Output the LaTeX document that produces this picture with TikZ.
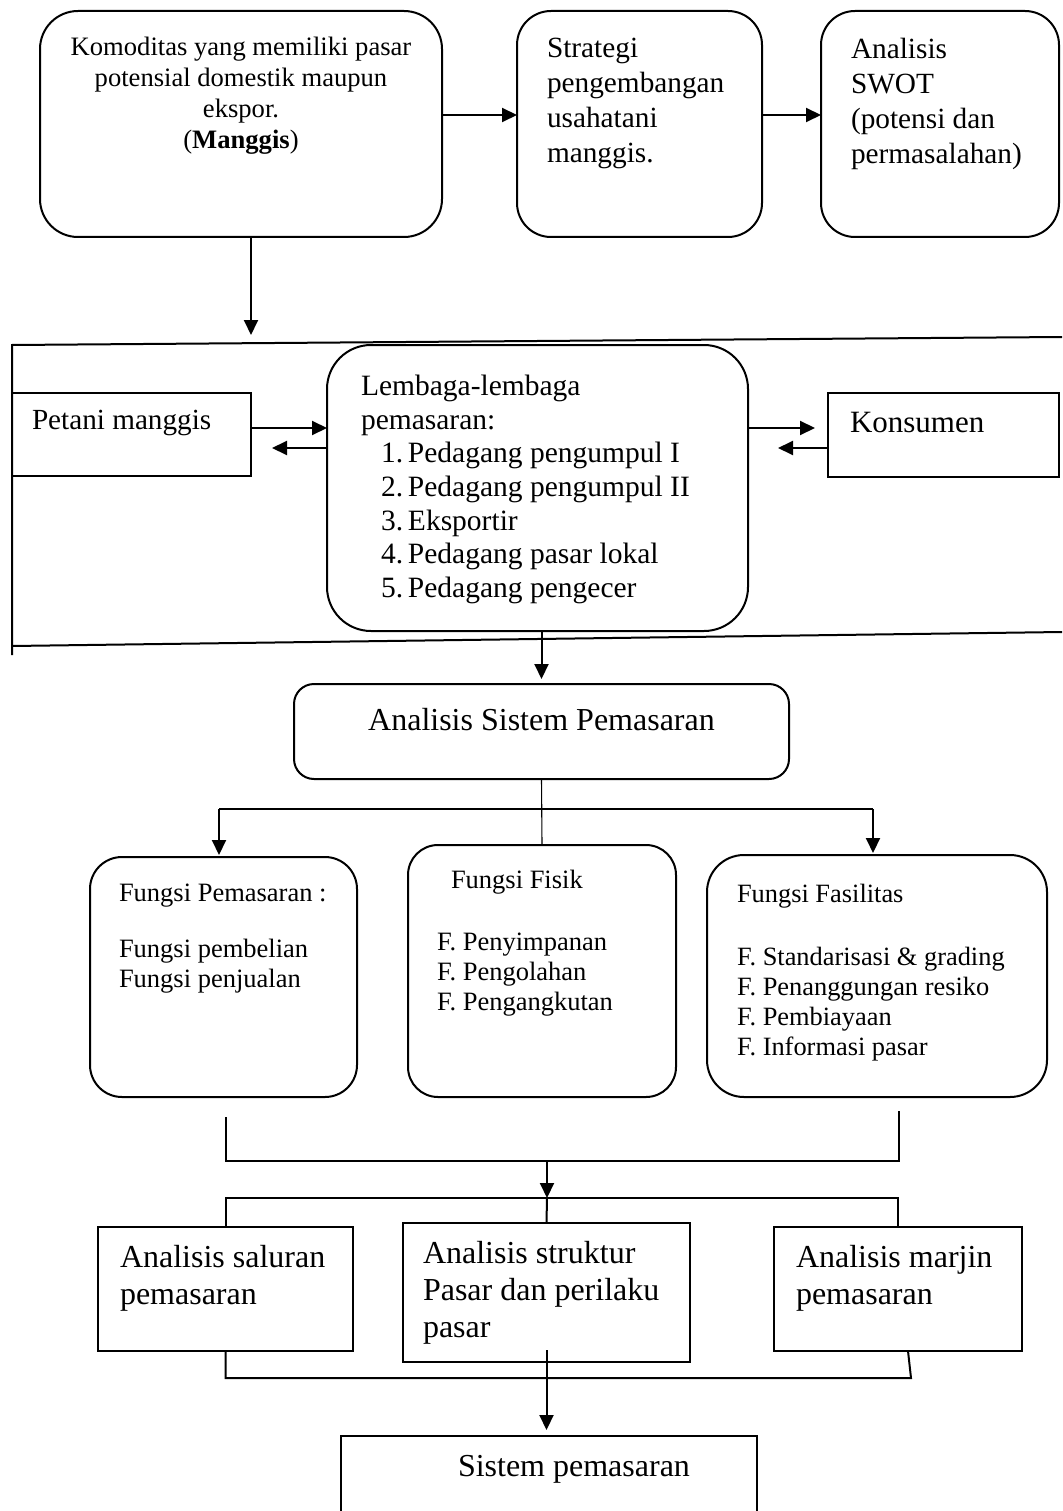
\documentclass[tikz,border=0pt]{standalone}
\usepackage{fontspec}
\setmainfont{Liberation Serif}
\usetikzlibrary{positioning,arrows.meta}

\begin{document}
\begin{tikzpicture}[x=1pt, y=-1pt,
        roundbox/.style={draw, rounded corners=#1, line width=2pt, inner sep=0pt, outer sep=0pt, anchor=north west},
        roundbox/.default=36pt,
        squarebox/.style={draw, line width=2pt, inner sep=0pt, outer sep=0pt, anchor=north west},
        boxtext/.style={inner sep=0pt, outer sep=0pt, anchor=north west, align=left},
        arrowline/.style={-{Triangle[length=15pt, width=14pt]}, line width=2pt},
        plainline/.style={line width=2pt},
        thinline/.style={line width=1.1pt},
        ]
        \useasboundingbox (0,0) rectangle (1062,1511);
        \clip (0,0) rectangle (1062,1511);
        %Nodes
        \node[roundbox=38pt, minimum width=402pt, minimum height=226pt] at (40,11) (komoditas) {};
        \node[roundbox=34pt, minimum width=245pt, minimum height=226pt] [right=75pt of komoditas] (strategi) {};
        \node[roundbox=34pt, minimum width=238pt, minimum height=226pt] [right=59pt of strategi] (swot) {};

        \node[squarebox, minimum width=239pt, minimum height=83pt] at (12,393) (petani) {};
        \node[roundbox=44pt, minimum width=421pt, minimum height=286pt] at (327,345) (lembaga) {};
        \node[squarebox, minimum width=231pt, minimum height=84pt] at (828,393) (konsumen) {};

        \node[roundbox=20pt, minimum width=495pt, minimum height=95pt] at (294,684) (asp) {};

        \node[roundbox=32pt, minimum width=267pt, minimum height=240pt] at (90,857) (pemasaran) {};
        \node[roundbox=30pt, minimum width=268pt, minimum height=252pt] at (408,845) (fisik) {};
        \node[roundbox=37pt, minimum width=340pt, minimum height=242pt] at (707,855) (fasilitas) {};

        \node[squarebox, minimum width=255pt, minimum height=124pt] at (98,1227) (saluran) {};
        \node[squarebox, minimum width=287pt, minimum height=139pt] at (403,1223) (struktur) {};
        \node[squarebox, minimum width=248pt, minimum height=124pt] at (774,1227) (marjin) {};
        \node[squarebox, minimum width=416pt, minimum height=120pt] at (341,1436) (sistem) {};

        \node[boxtext, align=center, font=\fontsize{26.6}{31}\selectfont] [below=26pt of komoditas.north] (komoditastext) {Komoditas yang memiliki pasar\\potensial domestik maupun\\ekspor.\\(\textbf{Manggis})};
        \node[boxtext, font=\fontsize{29.3}{35}\selectfont] [below right=27pt and 30pt of strategi.north west] (strategitext) {Strategi\\pengembangan\\usahatani\\manggis.};
        \node[boxtext, font=\fontsize{29.3}{35}\selectfont] [below right=27pt and 30pt of swot.north west] (swottext) {Analisis\\SWOT\\(potensi dan\\permasalahan)};

        \node[boxtext, font=\fontsize{29.2}{34}\selectfont] [below right=17.6pt and 20pt of petani.north west] (petanitext) {Petani manggis};
        \node[boxtext, font=\fontsize{29.5}{33.7}\selectfont] [below right=30pt and 34pt of lembaga.north west] (lembagatext) {Lembaga-lembaga\\pemasaran:\\
            \hspace*{20pt}\makebox[27pt][l]{1.}Pedagang pengumpul I\\
            \hspace*{20pt}\makebox[27pt][l]{2.}Pedagang pengumpul II\\
            \hspace*{20pt}\makebox[27pt][l]{3.}Eksportir\\
            \hspace*{20pt}\makebox[27pt][l]{4.}Pedagang pasar lokal\\
            \hspace*{20pt}\makebox[27pt][l]{5.}Pedagang pengecer};
        \node[boxtext, font=\fontsize{31}{36}\selectfont] [below right=19.5pt and 22pt of konsumen.north west] (konsumentext) {Konsumen};

        \node[boxtext, font=\fontsize{32}{37}\selectfont] [below=24pt of asp.north] (asptext) {Analisis Sistem Pemasaran};

        \node[boxtext, font=\fontsize{26.5}{30}\selectfont] [below right=27pt and 29pt of pemasaran.north west] (pemasarantext) {Fungsi Pemasaran :\\[26pt]Fungsi pembelian\\Fungsi penjualan};
        \node[boxtext, font=\fontsize{26.5}{30}\selectfont] [below right=25pt and 29pt of fisik.north west] (fisiktext) {\hspace*{14pt}Fungsi Fisik\\[32pt]F. Penyimpanan\\F. Pengolahan\\F. Pengangkutan};
        \node[boxtext, font=\fontsize{26.4}{30}\selectfont] [below right=29.6pt and 30pt of fasilitas.north west] (fasilitastext) {Fungsi Fasilitas\\[33pt]F. Standarisasi \& grading\\F. Penanggungan resiko\\F. Pembiayaan\\F. Informasi pasar};

        \node[boxtext, font=\fontsize{32}{37.5}\selectfont] [below right=18pt and 22pt of saluran.north west] (salurantext) {Analisis saluran\\pemasaran};
        \node[boxtext, font=\fontsize{32}{37}\selectfont] [below right=18pt and 20pt of struktur.north west] (strukturtext) {Analisis struktur\\Pasar dan perilaku\\pasar};
        \node[boxtext, font=\fontsize{32}{37.5}\selectfont] [below right=18pt and 22pt of marjin.north west] (marjintext) {Analisis marjin\\pemasaran};
        \node[boxtext, font=\fontsize{32}{37}\selectfont] [below right=19pt and 117pt of sistem.north west] (sistemtext) {Sistem pemasaran};

        \coordinate (fleft) at (219,809);
        \coordinate (fright) at (873,809);
        \coordinate (gleft) at (226,1117);
        \coordinate (gright) at (899,1111);
        \coordinate (gjoin) at (547,1161);
        \coordinate (hjoin) at (547,1198);
        \coordinate (mtick) at (908,1351);
        \coordinate (kright) at (911,1378);

        \draw [arrowline] ([yshift=9pt]komoditas.east) -- ([yshift=9pt]strategi.west);
        \draw [arrowline] ([yshift=9pt]strategi.east) -- ([yshift=9pt]swot.west);
        \draw [arrowline] ([xshift=10pt]komoditas.south) -- ++(0,98);

        \draw [plainline] (1062,337) -- (12,345) -- (12,655);
        \draw [plainline] (12,646) -- (1062,632);

        \draw [arrowline] ([yshift=6.5pt]petani.east) -- ([yshift=6.5pt]petani.east -| lembaga.west);
        \draw [arrowline] ([yshift=-13.5pt]petani.east -| lembaga.west) -- ++(-55,0);
        \draw [arrowline] ([yshift=7pt]konsumen.west -| lembaga.east) -- ++(67,0);
        \draw [arrowline] ([yshift=-13pt]konsumen.west) -- ++(-50,0);

        \draw [arrowline] (lembaga.south -| asp.north) -- ([yshift=5pt]asp.north);

        \draw [thinline] (asp.south) -- (fisik.north);
        \draw [plainline] (fleft) -- (fright);
        \draw [arrowline] (fleft) -- ([yshift=2pt]fleft |- pemasaran.north);
        \draw [arrowline] (fright) -- ([yshift=2pt]fright |- fasilitas.north);

        \draw [plainline] (gleft) -- (gleft |- gjoin) -- (gright |- gjoin) -- (gright);
        \draw [arrowline] (gjoin) -- (hjoin);
        \draw [plainline] (saluran.north) -- (saluran.north |- hjoin) -- (marjin.north |- hjoin) -- (marjin.north);
        \draw [plainline] (hjoin) -- (struktur.north);
        \draw [plainline] (saluran.south) -- (saluran.south |- kright) -- (kright) -- (mtick);
        \draw [arrowline] ([yshift=12pt]struktur.south) -- ([yshift=6pt]struktur.south |- sistem.north);
        %Lines
    \end{tikzpicture}
\end{document}
